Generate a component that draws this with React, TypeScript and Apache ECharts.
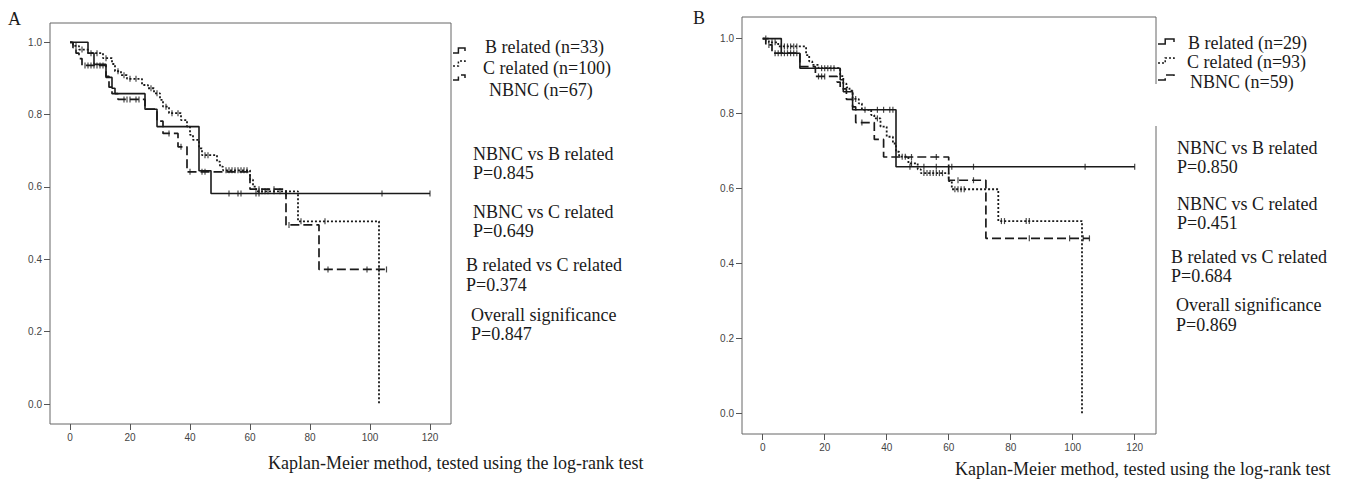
import React, { useEffect, useRef } from "react";
import * as echarts from "echarts";

// ---------- tick values ----------
const xTicks = [0, 20, 40, 60, 80, 100, 120];
const yTicks = [0, 0.2, 0.4, 0.6, 0.8, 1.0];

// ---------- Panel A ----------
const aB_times = [6, 8, 12, 14, 15, 25, 29, 43, 47];
const aB_surv = [0.97, 0.939, 0.903, 0.873, 0.858, 0.815, 0.767, 0.645, 0.582];
const aB_end = 120;
const aB_censor = [53, 56, 57, 62, 63, 72, 104, 120];

const aC_times = [1, 3, 6, 11, 14, 15, 17, 19, 24, 26, 28, 30, 31, 33, 37, 39, 40, 41, 43, 44, 49, 50, 51, 60, 61, 62, 76, 103];
const aC_surv = [0.99, 0.98, 0.97, 0.956, 0.94, 0.92, 0.909, 0.899, 0.882, 0.873, 0.859, 0.841, 0.822, 0.804, 0.785, 0.767, 0.744, 0.73, 0.707, 0.688, 0.67, 0.656, 0.646, 0.62, 0.601, 0.588, 0.505, 0];
const aC_end = 103;
const aC_censor = [2, 4, 7, 9, 12, 16, 18, 20, 22, 27, 29, 32, 34, 36, 45, 46, 52, 53, 54, 55, 56, 57, 58, 59, 63, 64, 65, 66, 68, 70, 77, 85];

const aN_times = [1, 2, 3, 4, 12, 13, 14, 16, 25, 29, 31, 36, 39, 60, 72, 83];
const aN_surv = [0.985, 0.97, 0.955, 0.936, 0.906, 0.876, 0.858, 0.842, 0.815, 0.782, 0.748, 0.711, 0.642, 0.594, 0.495, 0.372];
const aN_end = 105.5;
const aN_censor = [5, 6, 7, 8, 9, 10, 11, 18, 19, 20, 22, 23, 33, 37, 40, 44, 45, 63, 68, 73, 86, 99, 103, 105.5];

// ---------- Panel B ----------
const bB_times = [6, 12, 25, 26, 29, 43];
const bB_surv = [0.961, 0.921, 0.89, 0.858, 0.81, 0.658];
const bB_end = 120;
const bB_censor = [37, 39, 41, 42, 47.5, 52, 56, 61, 68, 104, 120];

const bC_times = [2, 5, 14, 15, 16, 18, 25, 26, 27, 28, 29, 31, 32, 35, 36, 38, 40, 42, 43, 44, 47, 50, 51, 60, 61, 76, 103];
const bC_surv = [0.99, 0.979, 0.956, 0.939, 0.93, 0.921, 0.9, 0.88, 0.87, 0.861, 0.839, 0.827, 0.81, 0.796, 0.787, 0.765, 0.738, 0.72, 0.698, 0.685, 0.667, 0.651, 0.641, 0.62, 0.598, 0.513, 0];
const bC_end = 103;
const bC_censor = [1, 3, 4, 6, 7, 8, 9, 10, 11, 19, 20, 21, 22, 23, 30, 33, 37, 45, 46, 48, 52, 53, 54, 55, 56, 57, 58, 62, 63, 64, 65, 77, 78, 85, 86];

const bN_times = [1, 3, 12, 17, 24, 25, 27, 29, 30, 36, 39, 60, 72];
const bN_surv = [0.983, 0.961, 0.925, 0.899, 0.884, 0.866, 0.838, 0.818, 0.776, 0.731, 0.684, 0.622, 0.467];
const bN_end = 105.4;
const bN_censor = [2, 4, 5, 6, 7, 8, 9, 10, 11, 18, 19, 20, 32, 48, 56, 63, 68, 86, 99, 103.4, 105.4];

// ---------- texts ----------
const legendA = ["B related (n=33)", "C related (n=100)", "NBNC (n=67)"];
const legendB = ["B related (n=29)", "C related (n=93)", "NBNC (n=59)"];
const statsA = ["NBNC vs B related", "P=0.845", "NBNC vs C related", "P=0.649", "B related vs C related", "P=0.374", "Overall significance", "P=0.847"];
const statsB = ["NBNC vs B related", "P=0.850", "NBNC vs C related", "P=0.451", "B related vs C related", "P=0.684", "Overall significance", "P=0.869"];
const footer = "Kaplan-Meier method, tested using the log-rank test";

// ---------- helpers ----------
function kmPoints(times: number[], surv: number[], end: number) {
  const pts: number[][] = [[0, 1]];
  let prev = 1;
  times.forEach((t, i) => {
    pts.push([t, prev]);
    pts.push([t, surv[i]]);
    prev = surv[i];
  });
  const last = times[times.length - 1];
  if (end > last) pts.push([end, prev]);
  return pts;
}
function kmAt(times: number[], surv: number[], t: number) {
  let s = 1;
  times.forEach((tt, i) => {
    if (tt <= t) s = surv[i];
  });
  return s;
}
function censorPts(times: number[], surv: number[], cens: number[]) {
  return cens.map((t) => [t, kmAt(times, surv, t)]);
}

const INK = "#1a1a1a";
const SERIF = '"Liberation Serif", "Times New Roman", serif';
const styles: Record<string, any> = {
  B: { type: "solid", width: 1.6 },
  C: { type: [2, 2], width: 1.8 },
  N: { type: [9, 4], width: 1.7 },
};

function panelSeries(idx: number, sets: any[]) {
  const out: any[] = [];
  sets.forEach((s) => {
    out.push({
      type: "line",
      xAxisIndex: idx,
      yAxisIndex: idx,
      data: kmPoints(s.times, s.surv, s.end),
      symbol: "none",
      silent: true,
      lineStyle: { color: INK, ...styles[s.kind] },
    });
    out.push({
      type: "scatter",
      xAxisIndex: idx,
      yAxisIndex: idx,
      data: censorPts(s.times, s.surv, s.censor),
      symbol: "rect",
      symbolSize: [1.2, 6],
      silent: true,
      itemStyle: { color: INK },
    });
  });
  return out;
}

function axisPair(idx: number, xmin: number, xmax: number, ymin: number, ymax: number) {
  const labelStyle = { fontSize: 10, color: "#444", fontFamily: '"Liberation Sans", Arial, sans-serif' };
  return {
    x: {
      type: "value",
      gridIndex: idx,
      position: "bottom",
      min: xmin,
      max: xmax,
      axisLine: { show: false, onZero: false },
      splitLine: { show: false },
      axisTick: { show: true, length: 6, customValues: xTicks, lineStyle: { color: "#555" } },
      axisLabel: { ...labelStyle, margin: 8, customValues: xTicks, formatter: (v: number) => String(v) },
    },
    y: {
      type: "value",
      gridIndex: idx,
      position: "left",
      min: ymin,
      max: ymax,
      axisLine: { show: false, onZero: false },
      splitLine: { show: false },
      axisTick: { show: true, length: 6, customValues: yTicks, lineStyle: { color: "#555" } },
      axisLabel: { ...labelStyle, margin: 8, customValues: yTicks, formatter: (v: number) => v.toFixed(1) },
    },
  };
}

function txt(text: string, x: number, y: number, size = 18) {
  return {
    type: "text",
    silent: true,
    style: { text, x, y, fill: INK, fontSize: size, fontFamily: SERIF, align: "left", verticalAlign: "middle" },
  };
}

function icon(kind: string, x: number, y: number, w: number) {
  const st = styles[kind];
  return {
    type: "polyline",
    silent: true,
    shape: { points: [[x, y + 3], [x + w * 0.45, y + 3], [x + w * 0.45, y - 2], [x + w, y - 2], [x + w, y + 1]] },
    style: { stroke: INK, lineWidth: 1.5, lineDash: st.type === "solid" ? null : st.type, fill: null },
  };
}

export default function App() {
  const ref = useRef<HTMLDivElement>(null);
  useEffect(() => {
    if (!ref.current) return;
    const chart = echarts.init(ref.current, undefined, { renderer: "svg" });
    const aAxes = axisPair(0, (50 - 70) / 3, (451 - 70) / 3, (404 - 424) / 361.7, (404 - 23) / 361.7);
    const bAxes = axisPair(1, (742 - 762.7) / 3.1, (1156 - 762.7) / 3.1, (413.3 - 434) / 374.7, (413.3 - 17) / 374.7);

    const series = [
      ...panelSeries(0, [
        { kind: "B", times: aB_times, surv: aB_surv, end: aB_end, censor: aB_censor },
        { kind: "C", times: aC_times, surv: aC_surv, end: aC_end, censor: aC_censor },
        { kind: "N", times: aN_times, surv: aN_surv, end: aN_end, censor: aN_censor },
      ]),
      ...panelSeries(1, [
        { kind: "B", times: bB_times, surv: bB_surv, end: bB_end, censor: bB_censor },
        { kind: "C", times: bC_times, surv: bC_surv, end: bC_end, censor: bC_censor },
        { kind: "N", times: bN_times, surv: bN_surv, end: bN_end, censor: bN_censor },
      ]),
    ];

    const statYA = [154, 173, 212, 231, 265, 285, 315, 334];
    const statXA = [473, 473, 473, 473, 466, 466, 471, 471];
    const statYB = [148, 167, 204, 223, 257, 276, 305, 325];
    const statXB = [1177, 1177, 1177, 1177, 1171, 1171, 1176, 1176];

    const graphic: any[] = [
      txt("A", 8, 19),
      txt("B", 693, 18),
      txt(footer, 268, 463),
      txt(footer, 955, 469),
      txt(legendA[0], 485, 47),
      txt(legendA[1], 483, 68),
      txt(legendA[2], 489, 90),
      txt(legendB[0], 1188, 43),
      txt(legendB[1], 1187, 62),
      txt(legendB[2], 1190, 82),
      icon("B", 453, 50, 12),
      icon("C", 453, 63, 12),
      icon("N", 453, 77, 12),
      icon("B", 1158, 41, 16),
      icon("C", 1158, 60, 16),
      icon("N", 1158, 77, 16),
      { type: "rect", silent: true, shape: { x: 1153, y: 84, width: 6, height: 42 }, style: { fill: "#fff" } },
      ...statsA.map((s, i) => txt(s, statXA[i], statYA[i])),
      ...statsB.map((s, i) => txt(s, statXB[i], statYB[i])),
    ];

    chart.setOption({
      animation: false,
      backgroundColor: "#fff",
      grid: [
        { left: 50, top: 23, width: 401, height: 401, show: true, borderColor: "#666", borderWidth: 1, backgroundColor: "transparent" },
        { left: 742, top: 17, width: 414, height: 417, show: true, borderColor: "#666", borderWidth: 1, backgroundColor: "transparent" },
      ],
      xAxis: [aAxes.x, bAxes.x],
      yAxis: [aAxes.y, bAxes.y],
      series,
      graphic,
    });
    return () => chart.dispose();
  }, []);
  return <div ref={ref} style={{ position: "fixed", left: 0, top: 0, width: 1345, height: 479 }} />;
}
